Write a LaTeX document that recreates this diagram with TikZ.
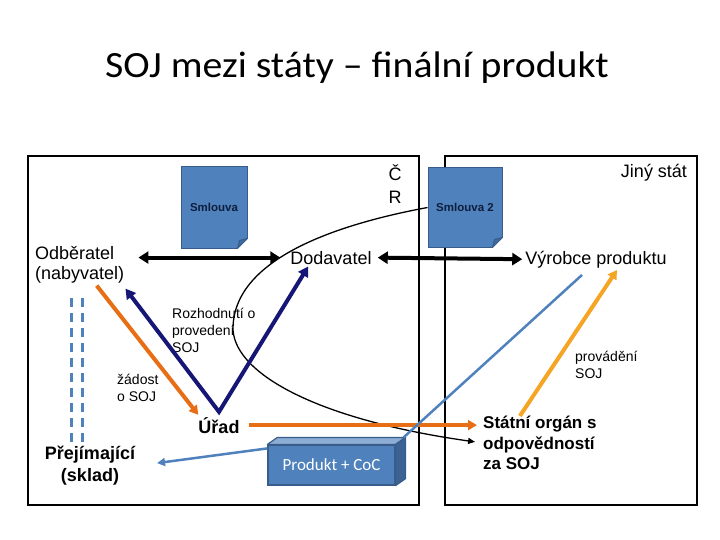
\documentclass[tikz,border=0pt]{standalone}
\usepackage{fontspec}
\setmainfont{Liberation Sans}
\newfontfamily\nadpisfont{Carlito}
\usetikzlibrary{arrows.meta}

\definecolor{tmavomodra}{RGB}{22,22,118}
\definecolor{oranzova}{RGB}{232,110,22}
\definecolor{zlutooranz}{RGB}{245,165,35}
\definecolor{ocelova}{RGB}{79,129,189}
\definecolor{okraj}{RGB}{56,93,138}
\definecolor{doktext}{RGB}{15,30,60}

\begin{document}
\begin{tikzpicture}[x=1pt,y=-1pt,
    txt/.style={inner sep=0pt, font=\fontsize{18}{20}\selectfont},
    tucny/.style={inner sep=0pt, font=\fontsize{18}{22}\selectfont\bfseries},
    maly/.style={inner sep=0pt, align=left, anchor=west, font=\fontsize{14}{17}\selectfont},
    dokument/.style={draw=okraj, fill=ocelova, line width=1pt, inner sep=0pt, text=doktext, font=\fontsize{11.5}{13}\selectfont\bfseries},
    silna/.style={line width=4pt, {Triangle[length=10pt,width=12pt]}-{Triangle[length=10pt,width=12pt]}},
    hrot/.style={-{Triangle[length=9pt,width=10pt]}}]
    \useasboundingbox (0,0) rectangle (720,540);
    % Nadpis
    \node[font=\nadpisfont\fontsize{37}{40}\selectfont, anchor=base] (nadpis) at (357,78) {\scalebox{1.075}[1]{SOJ mezi státy – finální produkt}};
    % Staty
    \draw[line width=1.2pt] (28,156) rectangle (419,505);
    \draw[line width=1.2pt] (445,156) rectangle (697,505);
    \node[txt, align=center, font=\fontsize{18}{23}\selectfont] (cr) at (395,184) {Č\\R};
    \node[txt, anchor=base] (jiny) at (654,178) {Jiný stát};
    % Smlouvy
    \node[dokument, minimum width=66pt, minimum height=81pt] (smlouva) at (214,207.5) {Smlouva};
    \node[dokument, minimum width=74pt, minimum height=79pt] (smlouvaB) at (465,207.5) {Smlouva 2};
    \foreach \d in {smlouva,smlouvaB} {
        \fill[white] ([xshift=-11pt,yshift=-1pt]\d.south east) -- ([xshift=1pt,yshift=-1pt]\d.south east) -- ([xshift=1pt,yshift=11pt]\d.south east) -- cycle;
        \filldraw[draw=okraj, fill=okraj!60!ocelova, line width=1pt, line join=round] ([xshift=-10pt]\d.south east) -- ([xshift=-8pt,yshift=8pt]\d.south east) -- ([yshift=10pt]\d.south east) -- cycle;
    }
    % Ucastnici
    \node[txt, align=left, anchor=west] (odberatel) at (35,265) {Odběratel\\(nabyvatel)};
    \node[txt, anchor=base] (dodavatel) at (331,264) {Dodavatel};
    \node[txt, anchor=base] (vyrobce) at (596,264) {Výrobce produktu};
    \node[tucny, anchor=base] (urad) at (219,433) {Úřad};
    \node[tucny, align=center] (prejimajici) at (90,466) {Přejímající\\(sklad)};
    \node[tucny, align=left, anchor=west, font=\fontsize{17}{20.5}\selectfont\bfseries] (statni) at (483,443) {Státní orgán s\\odpovědností\\za SOJ};
    % Popisky
    \node[maly] (rozhodnuti) at (172,330) {Rozhodnutí o\\provedení\\SOJ};
    \node[maly] (zadost) at (117,388) {žádost\\o SOJ};
    \node[maly] (provadeni) at (575,365) {provádění\\SOJ};
    % Oblouk ke statnimu organu
    \draw[line width=1.3pt, -{Triangle[length=7pt,width=6pt]}, shorten >=8pt] (smlouvaB.west) .. controls (328,226) and (232,262) .. (233,330) .. controls (236,375) and (320,420) .. (statni.west);
    % Cerne sipky
    \draw[silna, shorten <=14pt, shorten >=10pt] (odberatel.east |- dodavatel.west) -- (dodavatel.west);
    \draw[silna, shorten <=6pt, shorten >=3pt] (dodavatel.east) -- (vyrobce.west);
    % Rozhodnuti (V)
    \coordinate (vrchol) at ([yshift=5pt]urad.north);
    \draw[tmavomodra, line width=4pt, line join=miter, {Triangle[length=10pt,width=11pt]}-{Triangle[length=10pt,width=11pt]}] ([xshift=1pt,yshift=-5pt]odberatel.south east) -- (vrchol) -- ([xshift=18pt,yshift=-2pt]dodavatel.south west);
    % Zadost a oranzova sipka
    \draw[oranzova, line width=4pt, hrot] ([xshift=17pt,yshift=-2pt]odberatel.south) -- ([yshift=2pt]urad.north west);
    \draw[oranzova, line width=4pt, hrot, shorten <=9pt, shorten >=6pt] (urad.east) -- (urad.east -| statni.west);
    % Prerusovane cary
    \foreach \dx in {-19,-8}
        \draw[ocelova, line width=3pt, dash pattern=on 9pt off 6pt] ([xshift=\dx pt,yshift=4pt]prejimajici.north) -- ++(0,-148);
    % Produkt
    \node[draw=okraj, fill=ocelova, line width=1.2pt, minimum width=127pt, minimum height=40pt, inner sep=0pt, text=white, font=\nadpisfont\fontsize{17}{20}\selectfont] (produkt) at (331.5,465) {Produkt + CoC};
    \filldraw[draw=okraj, fill=ocelova!65!white, line width=1.2pt, line join=round] (produkt.north west) -- ([xshift=10pt,yshift=7pt]produkt.north west) -- ([xshift=10pt,yshift=7pt]produkt.north east) -- (produkt.north east) -- cycle;
    \filldraw[draw=okraj, fill=okraj!85!ocelova, line width=1.2pt, line join=round] (produkt.north east) -- ([xshift=10pt,yshift=7pt]produkt.north east) -- ([xshift=10pt,yshift=7pt]produkt.south east) -- (produkt.south east) -- cycle;
    \draw[ocelova, line width=2.5pt, -{Triangle[length=8pt,width=8pt]}, shorten >=22pt] ([yshift=-4pt]produkt.north west) -- (prejimajici.east);
    \draw[ocelova, line width=2.5pt] ([xshift=8pt,yshift=7pt]produkt.north east) -- ([xshift=-14pt,yshift=-7pt]vyrobce.south);
    % Provadeni
    \draw[zlutooranz, line width=4pt, hrot] ([xshift=-20pt]statni.north) -- ([xshift=21pt,yshift=-2pt]vyrobce.south);
\end{tikzpicture}
\end{document}
